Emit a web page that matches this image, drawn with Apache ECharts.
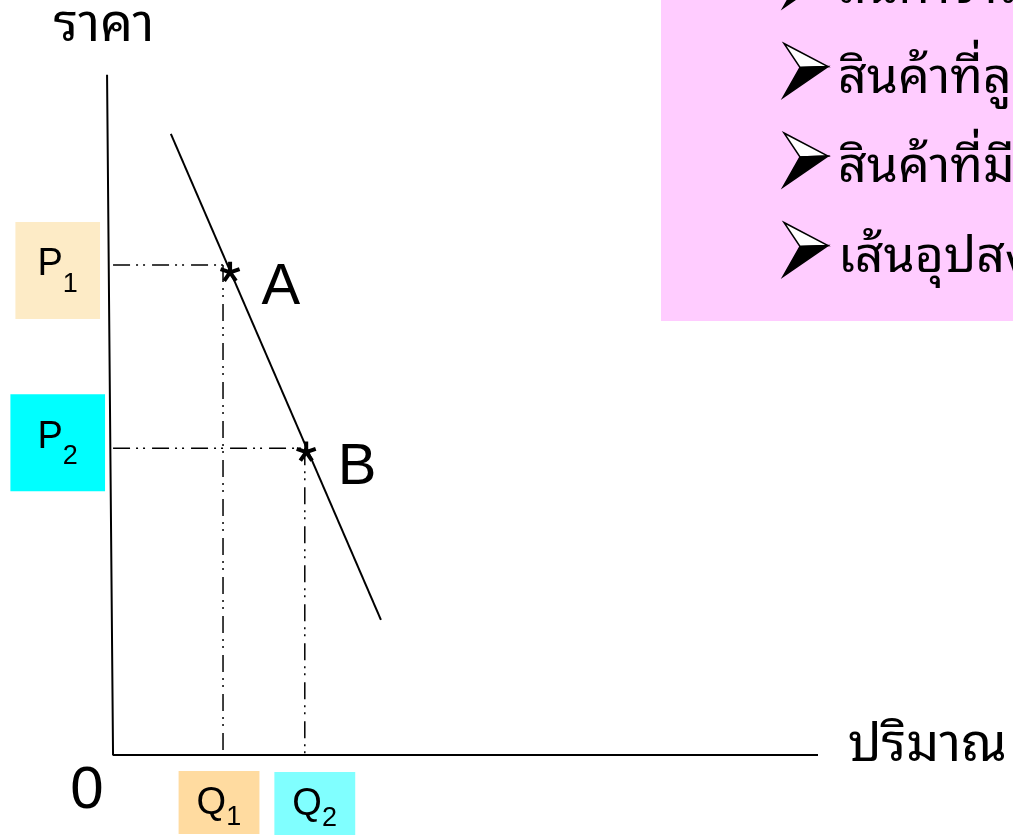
<!DOCTYPE html>
<html>
<head>
<meta charset="utf-8">
<script src="https://cdn.jsdelivr.net/npm/echarts@6/dist/echarts.min.js"></script>
<style>
  html, body { margin: 0; padding: 0; background: #fff; }
  #chart { width: 1013px; height: 835px; }
</style>
</head>
<body>
<div id="chart"></div>
<script>
// demand curve end points (quantity, price)
const demandQ = [8.2, 38.0];
const demandP = [89.1, 19.4];
// price axis leans a little, like on the slide
const axisQ = [-0.85, 0, 100];
const axisP = [97.6, 0, 0];
// points on the curve
const pointNames = ["A", "B"];
const pointQ = [16.6, 27.4];
const pointP = [69.4, 43.6];
// P1, P2 and Q1, Q2 levels
const priceSubs = ["1", "2"];
const priceLevels = [70.3, 44.0];
const qtySubs = ["1", "2"];
const qtyLevels = [15.6, 27.2];
const bullets = [
  "สินค้าจำเป็น",
  "สินค้าที่ลูกค้าติดใจ",
  "สินค้าที่มีสินค้าทดแทนน้อย",
  "เส้นอุปสงค์ชัน",
];

const thaiFont = "'Noto Sans Thai Looped', 'Noto Sans Thai', Loma, Garuda, 'Noto Sans', sans-serif";
const latinFont = "'Liberation Sans', Arial, sans-serif";
const dashDotDot = [17, 6, 2, 5, 2, 7];

// quantity on the demand line at a given price
function qtyAt(p) {
  return demandQ[0] + ((p - demandP[0]) * (demandQ[1] - demandQ[0])) / (demandP[1] - demandP[0]);
}

let chartDom = echarts.init(document.getElementById("chart"));

let series = [];

// both axes as one polyline
series.push({
  type: "line",
  data: axisQ.map((q, i) => [q, axisP[i]]),
  symbol: "none",
  clip: false,
  lineStyle: { color: "#000", width: 2 },
  z: 3,
});

// demand curve
series.push({
  type: "line",
  data: demandQ.map((q, i) => [q, demandP[i]]),
  symbol: "none",
  lineStyle: { color: "#000", width: 2 },
  z: 3,
});

// dash-dot guides
priceLevels.forEach((p, i) => {
  series.push({
    type: "line",
    data: [[0, p], [qtyAt(p), p]],
    symbol: "none",
    lineStyle: { color: "#000", width: 1.5, type: dashDotDot },
  });
  series.push({
    type: "line",
    data: [[qtyLevels[i], p], [qtyLevels[i], 0]],
    symbol: "none",
    lineStyle: { color: "#000", width: 1.5, type: dashDotDot },
  });
});

// asterisk points A, B
series.push({
  type: "scatter",
  symbol: "path://M10,10L10,0M10,10L19.5,6.9M10,10L15.9,18.1M10,10L4.1,18.1M10,10L0.5,6.9",
  symbolSize: 19,
  itemStyle: { color: "#000", borderColor: "#000", borderWidth: 4, opacity: 1 },
  data: pointQ.map((q, i) => ({ value: [q, pointP[i]], name: pointNames[i] })),
  label: {
    show: true,
    position: "right",
    distance: 20,
    offset: [0, 17],
    formatter: "{b}",
    color: "#000",
    opacity: 1,
    fontSize: 58,
    fontFamily: latinFont,
  },
  z: 5,
});

// tag boxes P1, P2, Q1, Q2 and the origin 0
const tagRich = {
  m: { fontSize: 38, fontFamily: latinFont, color: "#000", lineHeight: 44, verticalAlign: "top" },
  s: { fontSize: 27, fontFamily: latinFont, color: "#000", lineHeight: 20, verticalAlign: "bottom" },
  hp: { fontSize: 1, lineHeight: 52 },
  hq: { fontSize: 1, lineHeight: 46 },
};
const pColors = ["#FDEBC6", "#00FFFF"];
const pPad = [[24, 22, 21, 22], [24, 27, 21, 27]];
const pDist = [13, 8];
const pOff = [[0, 5.5], [0, -5.5]];
const qColors = ["#FFDBA0", "#80FFFF"];
const qOff = [[-4, 0], [10, 0]];
const qDist = [16, 17];

let tags = [];
priceLevels.forEach((p, i) => {
  tags.push({
    value: [0, p],
    label: {
      position: "left",
      distance: pDist[i],
      offset: pOff[i],
      formatter: "{m|P}{s|" + priceSubs[i] + "}{hp| }",
      backgroundColor: pColors[i],
      padding: pPad[i],
    },
  });
});
qtyLevels.forEach((q, i) => {
  tags.push({
    value: [q, 0],
    label: {
      position: "bottom",
      distance: qDist[i],
      offset: qOff[i],
      formatter: "{m|Q}{s|" + qtySubs[i] + "}{hq| }",
      backgroundColor: qColors[i],
      padding: [14, 18, 3, 18],
    },
  });
});
tags.push({
  value: [0, 0],
  label: {
    position: "inside",
    offset: [-26, 36],
    formatter: "0",
    fontSize: 60,
    fontFamily: latinFont,
  },
});
series.push({
  type: "scatter",
  symbolSize: 0,
  itemStyle: { color: "#000", opacity: 1 },
  clip: false,
  data: tags,
  label: { show: true, rich: tagRich, color: "#000", opacity: 1, textBorderWidth: 0 },
  z: 6,
});

// pink note box, top right
let note = [
  {
    type: "rect",
    left: 661,
    top: 0,
    shape: { width: 352, height: 321 },
    style: { fill: "#FFCCFF" },
    z: 0,
  },
];
bullets.forEach((t, i) => {
  const y = -19 + i * 89.5;
  // arrowhead bullet: light upper half, black lower half
  note.push({
    type: "group",
    x: 783,
    y: y,
    z: 1,
    children: [
      {
        type: "polygon",
        shape: { points: [[1, -27], [45, -4], [17, -3]] },
        style: { fill: "#fff", stroke: "#000", lineWidth: 1.5 },
      },
      {
        type: "polygon",
        shape: { points: [[17, -3], [45, -4], [0, 27]] },
        style: { fill: "#000", stroke: "#000", lineWidth: 1.5 },
      },
    ],
  });
  note.push({
    type: "text",
    x: 838,
    y: y + 8,
    style: { text: t, font: "50px " + thaiFont, fill: "#000", verticalAlign: "middle" },
    z: 1,
  });
});

chartDom.setOption({
  animation: false,
  backgroundColor: "#fff",
  grid: { left: 106, right: 195, top: 55, bottom: 80 },
  xAxis: {
    type: "value",
    min: -1,
    max: 100,
    name: "ปริมาณ",
    nameLocation: "end",
    nameGap: 30,
    nameTextStyle: {
      fontSize: 52,
      fontFamily: thaiFont,
      color: "#000",
      verticalAlign: "bottom",
      lineHeight: 18,
    },
    axisLine: { show: false },
    axisTick: { show: false },
    axisLabel: { show: false },
    splitLine: { show: false },
  },
  yAxis: {
    type: "value",
    min: 0,
    max: 100,
    name: "ราคา",
    nameLocation: "end",
    nameGap: 6,
    nameTextStyle: { fontSize: 52, fontFamily: thaiFont, color: "#000", padding: [0, 4, 0, 0] },
    axisLine: { show: false, onZero: false },
    axisTick: { show: false },
    axisLabel: { show: false },
    splitLine: { show: false },
  },
  graphic: note,
  series: series,
});
</script>
</body>
</html>
